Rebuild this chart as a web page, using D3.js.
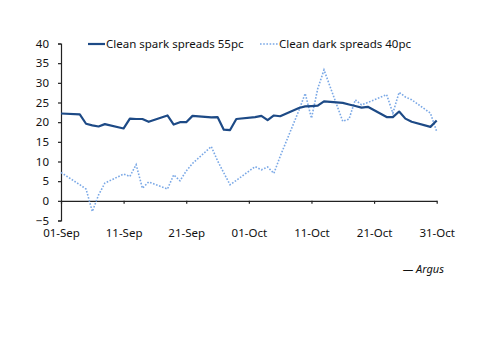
<!DOCTYPE html>
<html>
<head>
<meta charset="utf-8">
<script src="https://cdn.jsdelivr.net/npm/d3@7"></script>
<style>
  body { margin: 0; background: #fff; }
  text { font-family: "Noto Sans", sans-serif; fill: #111; }
</style>
</head>
<body>
<div id="chart"></div>
<script>
// Business days, Sep-Oct 2017
var dates = ["2017-09-01","2017-09-04","2017-09-05","2017-09-06","2017-09-07","2017-09-08",
    "2017-09-11","2017-09-12","2017-09-13","2017-09-14","2017-09-15",
    "2017-09-18","2017-09-19","2017-09-20","2017-09-21","2017-09-22",
    "2017-09-25","2017-09-26","2017-09-27","2017-09-28","2017-09-29",
    "2017-10-02","2017-10-03","2017-10-04","2017-10-05","2017-10-06",
    "2017-10-09","2017-10-10","2017-10-11","2017-10-12","2017-10-13",
    "2017-10-16","2017-10-17","2017-10-18","2017-10-19","2017-10-20",
    "2017-10-23","2017-10-24","2017-10-25","2017-10-26","2017-10-27",
    "2017-10-30","2017-10-31"];

var sparkSpreads = [22.2, 22.0, 19.6, 19.2, 18.9, 19.5,
    18.4, 20.9, 20.8, 20.8, 20.1,
    21.7, 19.4, 20.0, 20.0, 21.6,
    21.2, 21.3, 18.1, 18.0, 20.8,
    21.3, 21.6, 20.5, 21.7, 21.5,
    23.6, 24.0, 24.1, 24.2, 25.3,
    24.9, 24.5, 24.1, 23.7, 23.9,
    21.3, 21.3, 22.7, 20.9, 20.1,
    18.8, 20.4];

var darkSpreads = [7.2, 4.1, 3.0, -2.7, 1.5, 4.5,
    6.8, 6.2, 9.2, 3.2, 4.8,
    3.0, 6.6, 5.1, 7.6, 9.5,
    13.8, 10.2, 7.1, 4.1, 5.2,
    8.7, 7.9, 8.6, 7.0, 11.3,
    23.0, 27.3, 21.0, 28.5, 33.3,
    20.2, 20.8, 25.7, 24.4, 25.0,
    27.0, 22.3, 27.6, 26.4, 25.7,
    22.3, 17.6];

var seriesNames = ["Clean spark spreads 55pc", "Clean dark spreads 40pc"];
var xTicks = ["2017-09-01","2017-09-11","2017-09-21","2017-10-01","2017-10-11","2017-10-21","2017-10-31"];
var yTicks = [-5, 0, 5, 10, 15, 20, 25, 30, 35, 40];

function init() {
    var w = 500, h = 353;
    var parse = d3.utcParse("%Y-%m-%d");
    var fmt = d3.utcFormat("%d-%b");

    var x = d3.scaleUtc()
        .domain([parse("2017-09-01"), parse("2017-10-31")])
        .range([61, 436.7]);
    var y = d3.scaleLinear()
        .domain([-5, 40])
        .range([220.5, 43.5]);

    var svg = d3.select("#chart").append("svg")
        .attr("width", w)
        .attr("height", h);

    // Y axis
    var yAxis = svg.append("g")
        .attr("transform", "translate(61,0)")
        .call(d3.axisLeft(y).tickValues(yTicks).tickSize(3).tickPadding(9).tickFormat(d3.format("d")));
    yAxis.select(".domain").attr("stroke", "#222").attr("stroke-width", 1.2);
    yAxis.selectAll(".tick line").attr("stroke", "#222").attr("stroke-width", 1.2);
    yAxis.selectAll("text").style("font-size", "11.5px").attr("fill", "#111");

    // X axis at zero
    var xAxis = svg.append("g")
        .attr("transform", "translate(0," + y(0) + ")")
        .call(d3.axisBottom(x).tickValues(xTicks.map(parse)).tickSize(3).tickSizeOuter(0)
            .tickPadding(25).tickFormat(fmt));
    xAxis.select(".domain").attr("stroke", "#222").attr("stroke-width", 1.2);
    xAxis.selectAll(".tick line").attr("stroke", "#222").attr("stroke-width", 1.2);
    xAxis.selectAll("text").style("font-size", "11.5px").attr("fill", "#111");

    var line = d3.line()
        .x(function (d) { return x(parse(d.date)); })
        .y(function (d) { return y(d.v); });

    var sparkData = dates.map(function (d, i) { return { date: d, v: sparkSpreads[i] }; });
    var darkData = dates.map(function (d, i) { return { date: d, v: darkSpreads[i] }; });

    svg.append("path")
        .datum(darkData)
        .attr("d", line)
        .attr("fill", "none")
        .attr("stroke", "#7aa8e6")
        .attr("stroke-width", 1.6)
        .attr("stroke-dasharray", "1.6,1.6");

    svg.append("path")
        .datum(sparkData)
        .attr("d", line)
        .attr("fill", "none")
        .attr("stroke", "#1d4a86")
        .attr("stroke-width", 2.2)
        .attr("stroke-linejoin", "round");

    // Legend
    var legend = svg.append("g");
    legend.append("line")
        .attr("x1", 88).attr("x2", 105).attr("y1", 44).attr("y2", 44)
        .attr("stroke", "#1d4a86").attr("stroke-width", 2.2);
    legend.append("text")
        .attr("x", 106).attr("y", 48)
        .style("font-size", "11.5px")
        .text(seriesNames[0]);
    legend.append("line")
        .attr("x1", 260).attr("x2", 278).attr("y1", 44).attr("y2", 44)
        .attr("stroke", "#7aa8e6").attr("stroke-width", 1.6)
        .attr("stroke-dasharray", "1.6,1.6");
    legend.append("text")
        .attr("x", 279).attr("y", 48)
        .style("font-size", "11.5px")
        .text(seriesNames[1]);

    // Source
    svg.append("text")
        .attr("x", 444).attr("y", 273)
        .attr("text-anchor", "end")
        .style("font-size", "11px")
        .style("font-style", "italic")
        .text("\u2014 Argus");
}

window.onload = init;
</script>
</body>
</html>
